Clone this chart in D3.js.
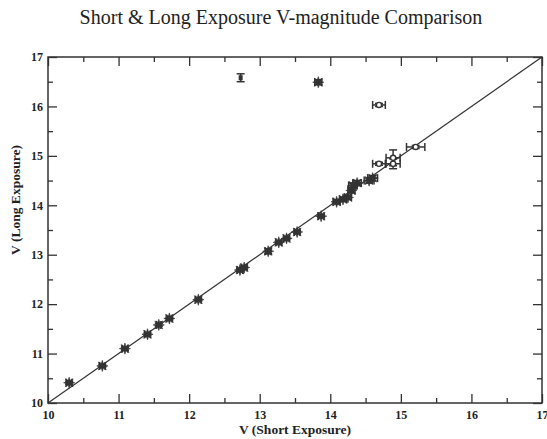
<!DOCTYPE html>
<html><head><meta charset="utf-8">
<script src="https://cdn.jsdelivr.net/npm/d3@7"></script>
<style>body{margin:0;background:#fff}svg{display:block}text{font-family:"Liberation Serif","DejaVu Serif",serif}</style>
</head><body><svg id="c" width="547" height="439"></svg>
<script>
// Filled-star points (small errors)
const starShort = [10.30,10.77,11.09,11.41,11.57,11.72,12.13,12.72,12.78,13.12,13.27,13.38,13.53,13.87,14.09,14.18,14.25,14.30,14.32,14.38,14.55,14.60,13.83];
const starLong  = [10.41,10.75,11.10,11.39,11.58,11.71,12.09,12.69,12.74,13.07,13.25,13.33,13.46,13.78,14.07,14.12,14.16,14.30,14.40,14.45,14.50,14.55,16.49];
const starXErr  = [0.04,0.04,0.04,0.04,0.03,0.04,0.04,0.04,0.04,0.04,0.04,0.04,0.04,0.04,0.05,0.05,0.05,0.05,0.06,0.06,0.07,0.07,0.05];
const starYErr  = [0.03,0.03,0.03,0.03,0.03,0.03,0.03,0.03,0.03,0.05,0.03,0.03,0.03,0.03,0.04,0.04,0.04,0.05,0.05,0.05,0.05,0.05,0.05];
// Open-circle points (larger errors)
const openShort = [14.69,14.69,14.89,14.89,15.21];
const openLong  = [16.03,14.84,14.96,14.84,15.18];
const openXErr  = [0.09,0.09,0.10,0.10,0.13];
const openYErr  = [0.03,0.03,0.16,0.10,0.03];
// Vertical-error-bar point
const barShort = [12.73];
const barLong  = [16.58];
const barYErr  = [0.08];
const majorTicks = [10,11,12,13,14,15,16,17];
const minorTicks = [10.5,11.5,12.5,13.5,14.5,15.5,16.5];

const svg = d3.select("#c");
const L=48,R=542,T=57,B=403;
const x = d3.scaleLinear().domain([10,17]).range([L,R]);
const y = d3.scaleLinear().domain([10,17]).range([B,T]);
const ink="#333";

svg.append("text").attr("x",281).attr("y",24).attr("text-anchor","middle")
  .attr("font-size",20).attr("fill","#222").text("Short & Long Exposure V-magnitude Comparison");

// frame
svg.append("rect").attr("x",L).attr("y",T).attr("width",R-L).attr("height",B-T)
  .attr("fill","none").attr("stroke",ink).attr("stroke-width",1.5);

// axes with inward ticks
const fmt = d3.format("d");
svg.append("g").attr("transform",`translate(0,${B})`).call(d3.axisBottom(x).tickValues(majorTicks).tickFormat(fmt).tickSizeInner(-9).tickSizeOuter(0).tickPadding(7));
svg.append("g").attr("transform",`translate(${L},0)`).call(d3.axisLeft(y).tickValues(majorTicks).tickFormat(fmt).tickSizeInner(-9).tickSizeOuter(0).tickPadding(5));
svg.append("g").attr("transform",`translate(0,${T})`).call(d3.axisTop(x).tickValues(majorTicks).tickFormat("").tickSizeInner(-9).tickSizeOuter(0));
svg.append("g").attr("transform",`translate(${R},0)`).call(d3.axisRight(y).tickValues(majorTicks).tickFormat("").tickSizeInner(-9).tickSizeOuter(0));
svg.append("g").attr("transform",`translate(0,${B})`).call(d3.axisBottom(x).tickValues(minorTicks).tickFormat("").tickSizeInner(-5).tickSizeOuter(0));
svg.append("g").attr("transform",`translate(${L},0)`).call(d3.axisLeft(y).tickValues(minorTicks).tickFormat("").tickSizeInner(-5).tickSizeOuter(0));
svg.append("g").attr("transform",`translate(0,${T})`).call(d3.axisTop(x).tickValues(minorTicks).tickFormat("").tickSizeInner(-5).tickSizeOuter(0));
svg.append("g").attr("transform",`translate(${R},0)`).call(d3.axisRight(y).tickValues(minorTicks).tickFormat("").tickSizeInner(-5).tickSizeOuter(0));
svg.selectAll(".domain").remove();
svg.selectAll(".tick line").attr("stroke",ink).attr("stroke-width",1.3);
svg.selectAll(".tick text").attr("font-size",12).attr("font-weight","bold").attr("fill","#222")
  .attr("font-family","'Liberation Serif',serif");

// axis labels
svg.append("text").attr("x",(L+R)/2).attr("y",434).attr("text-anchor","middle")
  .attr("font-size",13.5).attr("font-weight","bold").attr("fill","#222").text("V (Short Exposure)");
svg.append("text").attr("transform",`translate(20,200) rotate(-90)`).attr("text-anchor","middle")
  .attr("font-size",13.5).attr("font-weight","bold").attr("fill","#222").text("V (Long Exposure)");

// diagonal
svg.append("line").attr("x1",x(10)).attr("y1",y(10)).attr("x2",x(17)).attr("y2",y(17))
  .attr("stroke",ink).attr("stroke-width",1.2);

const g = svg.append("g").attr("stroke",ink).attr("stroke-width",1.5);
function errbars(xs,ys,xe,ye){
  xs.forEach((v,i)=>{
    const cx=x(v), cy=y(ys[i]);
    if(xe && xe[i]){
      const x1=x(v-xe[i]), x2=x(v+xe[i]);
      g.append("line").attr("x1",x1).attr("x2",x2).attr("y1",cy).attr("y2",cy);
      g.append("line").attr("x1",x1).attr("x2",x1).attr("y1",cy-4).attr("y2",cy+4);
      g.append("line").attr("x1",x2).attr("x2",x2).attr("y1",cy-4).attr("y2",cy+4);
    }
    if(ye && ye[i]){
      const y1=y(ys[i]-ye[i]), y2=y(ys[i]+ye[i]);
      g.append("line").attr("x1",cx).attr("x2",cx).attr("y1",y1).attr("y2",y2);
      g.append("line").attr("x1",cx-4).attr("x2",cx+4).attr("y1",y1).attr("y2",y1);
      g.append("line").attr("x1",cx-4).attr("x2",cx+4).attr("y1",y2).attr("y2",y2);
    }
  });
}
errbars(starShort,starLong,starXErr,starYErr);
errbars(openShort,openLong,openXErr,openYErr);
errbars(barShort,barLong,null,barYErr);

// star marker path (8-point burst)
const starPts = d3.range(16).map(k=>[k*Math.PI/8, k%2?2.6:5.6]);
const starPath = d3.lineRadial().curve(d3.curveLinearClosed)(starPts);
svg.append("g").selectAll("path").data(starShort).join("path")
  .attr("d",starPath).attr("transform",(d,i)=>`translate(${x(d)},${y(starLong[i])})`)
  .attr("fill",ink).attr("stroke",ink).attr("stroke-width",0.6);
svg.append("g").selectAll("circle").data(openShort).join("circle")
  .attr("cx",d=>x(d)).attr("cy",(d,i)=>y(openLong[i])).attr("r",2.6)
  .attr("fill","#fff").attr("stroke",ink).attr("stroke-width",1.4);
svg.append("g").selectAll("rect").data(barShort).join("rect")
  .attr("x",d=>x(d)-2).attr("y",(d,i)=>y(barLong[i])-2.5).attr("width",4).attr("height",5)
  .attr("fill",ink);
</script></body></html>
